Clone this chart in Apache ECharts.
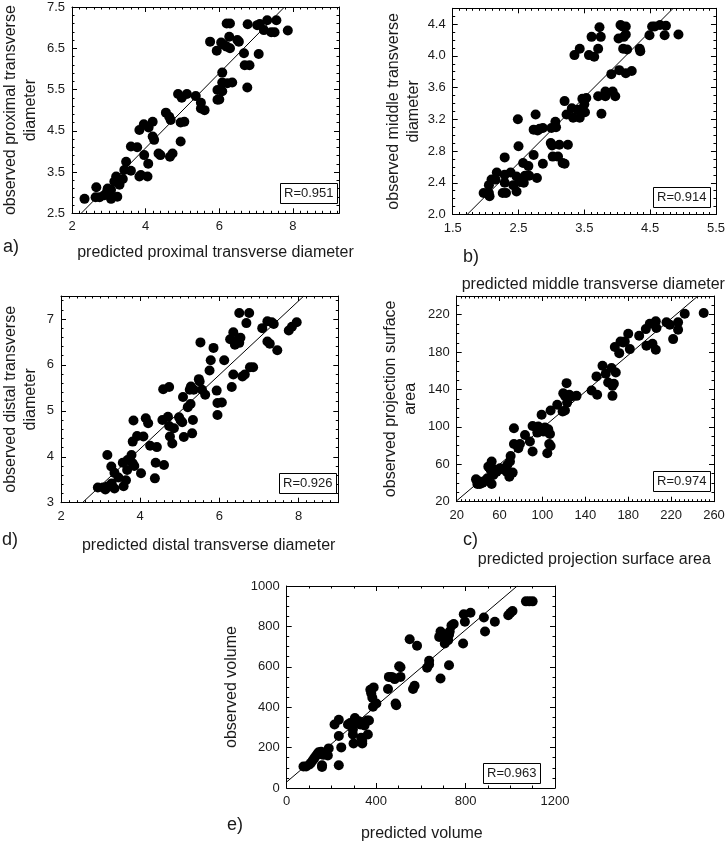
<!DOCTYPE html>
<html>
<head>
<meta charset="utf-8">
<script src="https://cdn.jsdelivr.net/npm/echarts@6/dist/echarts.min.js"></script>
<style>
html,body{margin:0;padding:0;background:#fff;}
#chart{width:728px;height:843px;}
</style>
</head>
<body>
<div id="chart"></div>
<script>
// ---------- DATA ----------
// a) proximal transverse diameter: [predicted, observed]
const proximalPoints = [
 [2.34,2.85],[2.66,3.13],[2.64,2.89],[2.75,2.89],[2.88,2.94],[2.95,3.02],[2.97,3.1],[3.06,2.85],[3.06,3.07],
 [3.15,3.27],[3.2,3.39],[3.24,3.31],[3.29,3.19],[3.23,2.9],[3.38,3.33],[3.42,3.55],[3.47,3.75],[3.6,3.53],
 [3.6,4.12],[3.77,4.1],[3.83,3.39],[3.87,3.43],[3.83,4.52],[3.95,4.66],[3.96,3.91],[4.05,3.39],[4.07,3.7],
 [4.08,4.58],[4.19,4.72],[4.19,4.36],[4.23,4.28],[4.35,3.95],[4.4,3.91],[4.55,4.94],[4.64,4.84],[4.68,4.76],
 [4.66,3.87],[4.73,3.95],[4.88,5.39],[4.98,5.3],[4.95,4.7],[5.05,4.72],[4.95,4.24],[5.12,5.39],[5.36,5.34],
 [5.5,5.18],[5.5,5.04],[5.6,5.0],[5.75,6.66],[5.93,6.44],[5.95,5.25],[6.0,5.26],[5.95,5.49],[6.08,5.46],
 [6.08,5.91],[6.08,5.67],[6.05,6.64],[6.13,6.58],[6.2,6.54],[6.22,5.65],[6.2,7.1],[6.29,7.1],[6.27,6.78],
 [6.29,6.5],[6.35,5.67],[6.49,6.7],[6.53,6.66],[6.67,6.38],[6.69,6.09],[6.76,5.55],[6.77,7.08],[6.82,6.09],
 [7.07,6.36],[7.03,7.06],[7.1,7.09],[7.21,6.94],[7.3,7.18],[7.41,6.89],[7.5,6.89],[7.55,7.18],[7.86,6.93]
];
const proximalFit = [[2.25,2.5],[7.77,7.5]];
const proximalR = 'R=0.951';

// b) middle transverse diameter
const middlePoints = [
 [1.97,2.27],[2.05,2.27],[2.06,2.23],[2.05,2.37],[2.09,2.44],[2.15,2.44],[2.17,2.53],[2.26,2.27],[2.31,2.27],
 [2.29,2.4],[2.29,2.5],[2.29,2.72],[2.38,2.53],[2.42,2.37],[2.47,2.29],[2.47,2.48],[2.49,3.2],[2.5,2.86],
 [2.52,2.41],[2.55,2.44],[2.57,2.65],[2.58,2.4],[2.6,2.49],[2.65,2.61],[2.66,2.49],[2.73,2.75],[2.73,3.07],
 [2.76,3.26],[2.78,2.46],[2.79,3.06],[2.82,3.08],[2.87,2.64],[2.87,3.09],[3.0,3.09],[2.99,2.9],[3.01,2.87],
 [3.02,2.73],[3.06,3.17],[3.07,3.1],[3.1,2.73],[3.12,2.88],[3.17,2.65],[3.2,2.64],[3.2,3.43],[3.25,2.88],
 [3.23,3.26],[3.31,3.34],[3.33,3.22],[3.35,4.01],[3.4,3.32],[3.43,3.22],[3.43,4.09],[3.47,3.46],[3.5,3.39],
 [3.51,3.29],[3.53,3.47],[3.57,4.01],[3.61,4.24],[3.65,3.99],[3.71,4.09],[3.71,3.49],[3.73,4.36],[3.75,4.24],
 [3.76,3.27],[3.82,3.49],[3.82,3.55],[3.91,3.77],[3.93,3.55],[3.97,3.49],[4.02,4.22],[4.03,3.82],[4.05,4.39],
 [4.08,4.37],[4.09,4.09],[4.1,4.24],[4.13,4.27],[4.13,4.37],[4.13,3.78],[4.15,4.08],[4.22,3.81],[4.34,4.09],
 [4.35,4.06],[4.49,4.26],[4.53,4.37],[4.57,4.37],[4.65,4.39],[4.72,4.26],[4.74,4.38],[4.93,4.27]
];
const middleFit = [[1.72,2.0],[4.85,4.6]];
const middleR = 'R=0.914';

// d) distal transverse diameter
const distalPoints = [
 [2.93,3.33],[3.06,3.33],[3.12,3.29],[3.17,3.35],[3.17,4.04],[3.27,3.79],[3.28,3.42],[3.35,3.31],[3.35,3.65],
 [3.45,3.55],[3.56,3.87],[3.58,3.36],[3.64,3.49],[3.67,3.71],[3.68,3.93],[3.78,4.04],[3.81,4.33],[3.81,3.86],
 [3.83,4.79],[3.85,3.8],[3.92,4.45],[4.02,3.64],[4.08,4.44],[4.14,4.84],[4.2,4.73],[4.25,4.24],[4.37,3.53],
 [4.39,3.87],[4.42,4.21],[4.56,4.8],[4.58,5.47],[4.6,3.82],[4.73,5.52],[4.7,4.87],[4.73,4.67],[4.75,4.44],
 [4.81,4.29],[4.85,4.62],[4.98,4.86],[5.02,4.79],[5.06,4.75],[5.08,5.3],[5.1,4.43],[5.2,5.08],[5.25,5.46],
 [5.27,5.15],[5.28,5.53],[5.31,4.51],[5.33,4.8],[5.35,5.46],[5.48,5.69],[5.5,5.64],[5.52,6.49],[5.56,5.46],
 [5.64,5.35],[5.75,5.88],[5.78,6.1],[5.85,6.37],[5.93,5.44],[5.95,5.17],[5.95,4.91],[6.06,5.18],[6.12,6.1],
 [6.27,6.56],[6.31,5.52],[6.35,5.79],[6.35,6.71],[6.39,6.44],[6.45,6.53],[6.5,7.13],[6.5,6.48],[6.53,6.59],
 [6.58,5.75],[6.64,5.79],[6.68,6.91],[6.75,7.13],[6.77,5.95],[6.85,5.95],[7.08,6.8],[7.21,6.95],[7.21,6.51],
 [7.27,6.46],[7.32,6.93],[7.37,6.89],[7.46,6.32],[7.75,6.75],[7.83,6.83],[7.95,6.93]
];
const distalFit = [[2.54,3.0],[8.13,7.5]];
const distalR = 'R=0.926';

// c) projection surface area
const areaPoints = [
 [38,43.9],[39.3,38.9],[41.7,38.9],[40.2,42],[44.2,40.4],[45.5,42],[48.6,45],[49.5,57.5],[52.6,62.9],
 [51.7,53.9],[52.6,38.9],[54.2,48.6],[54.8,54.6],[57.3,52.1],[60.4,55.7],[63.5,54.6],[66.6,52.1],[67.2,59.3],
 [69.1,46.8],[69.7,62.9],[70.3,68.9],[72.2,51.1],[73.4,98.6],[73.4,81.8],[77.5,77.1],[79,81.8],[83.7,91.4],
 [88.3,84.3],[90.8,101],[90.8,73.6],[95.2,93.9],[96.1,100.4],[97,96.8],[99.2,112.9],[100.7,95],[102.3,99.3],
 [103.2,95],[104.5,71.8],[105.4,97.5],[107,92.5],[106.3,81.8],[107.6,117.5],[107.6,79.6],[113.8,123.6],
 [118.8,116.4],[119.4,136],[121,117.5],[121,133.2],[122.5,146.8],[123,126],[125,134.3],[127,132.5],
 [131.8,133.2],[145.8,139],[150.4,154],[151,134.3],[156,165.4],[159,156.8],[161.3,147.5],[164.4,162.9],
 [165.3,143.9],[165.3,133.2],[166.6,146.1],[168.4,158.2],[167.5,185.4],[171.6,178.9],[172.8,191.4],
 [175.3,190.4],[176.8,191.4],[180,199.6],[181.5,183.2],[190.2,197.5],[196.4,204.6],[197,186.8],[200.1,210.4],
 [203.2,210.4],[202.6,188.9],[205.7,212.9],[206.3,205.7],[205.7,182.5],[215.7,211.8],[218.8,209.3],
 [221.9,193.9],[226.5,211.8],[226.5,203.9],[232.7,221.1],[250.4,221.8]
];
const areaFit = [[20,21],[245,240]];
const areaR = 'R=0.974';

// e) volume
const volumePoints = [
 [75,106],[87,106],[102,116],[109,125],[117,137],[124,148],[132,161],[139,169],[143,177],[154,180],
 [158,113],[158,104],[164,164],[176,174],[184,161],[188,196],[214,314],[233,338],[233,257],[233,113],
 [244,201],[274,314],[284,322],[296,289],[296,265],[299,220],[305,346],[311,322],[323,330],[329,314],
 [333,249],[338,233],[338,220],[341,314],[348,309],[359,334],[363,265],[368,334],[374,486],[378,469],
 [383,447],[386,402],[389,498],[401,418],[453,490],[457,550],[467,550],[475,547],[483,539],[487,418],
 [490,410],[503,603],[509,598],[509,550],[550,736],[565,490],[572,506],[583,704],[628,595],[637,630],
 [637,611],[682,748],[688,542],[688,775],[692,759],[726,608],[707,715],[722,732],[726,759],[729,775],
 [737,804],[747,812],[789,715],[792,860],[797,823],[822,868],[882,844],[887,775],[931,823],[991,855],
 [1001,868],[1010,876],[1070,924],[1085,924],[1100,924]
];
const volumeFit = [[0,30],[1031,1000]];
const volumeR = 'R=0.963';

// axis titles and panel letters
const xTitles = ['predicted proximal transverse diameter','predicted middle transverse diameter',
  'predicted distal transverse diameter','predicted projection surface area','predicted volume'];
const yTitles = ['observed proximal transverse\ndiameter','observed middle transverse\ndiameter',
  'observed distal transverse\ndiameter','observed projection surface\narea','observed volume'];
const letters = ['a)','b)','d)','c)','e)'];

// ---------- LAYOUT ----------
const FONT = 'Liberation Sans, Arial, sans-serif';
const TXT = '#1a1a1a';
const panels = [
 {pts:proximalPoints, fit:proximalFit, r:proximalR,
  grid:{left:70.7, top:7, width:268.3, height:206.3},
  x:{min:2, max:9.25, interval:2, minor:10, showMax:false},
  y:{min:2.5, max:7.5, interval:1, minor:5, showMax:true, dec:1},
  xGap:31, xShift:10, yGap:31, rPos:[280,183], letter:[3,238]},
 {pts:middlePoints, fit:middleFit, r:middleR,
  grid:{left:452.7, top:8.3, width:264.6, height:206.2},
  x:{min:1.5, max:5.5, interval:1, minor:10, showMax:true, dec:1},
  y:{min:2.0, max:4.6, interval:0.4, minor:4, showMax:false, dec:1},
  xGap:62, xShift:9, yGap:28, rPos:[653,187], letter:[463,248]},
 {pts:distalPoints, fit:distalFit, r:distalR,
  grid:{left:58.3, top:296, width:280, height:206.7},
  x:{min:2, max:9, interval:2, minor:10, showMax:false},
  y:{min:3, max:7.5, interval:1, minor:5, showMax:false},
  xGap:35, xShift:9, yGap:20, rPos:[279,473], letter:[2,531]},
 {pts:areaPoints, fit:areaFit, r:areaR,
  grid:{left:456.7, top:296, width:257.3, height:205.7},
  x:{min:20, max:260, interval:40, minor:10, showMax:true},
  y:{min:20, max:240, interval:40, minor:4, showMax:false},
  xGap:50, xShift:9, yGap:36, rPos:[653,471], letter:[463,531]},
 {pts:volumePoints, fit:volumeFit, r:volumeR,
  grid:{left:286.7, top:586, width:268.3, height:207},
  x:{min:0, max:1200, interval:400, minor:4, showMax:true},
  y:{min:0, max:1000, interval:200, minor:4, showMax:true},
  xGap:38, xShift:1, yGap:45, rPos:[483,763], letter:[227,816]}
];

const grids=[], xAxes=[], yAxes=[], series=[], titles=[];
panels.forEach((p,i)=>{
  grids.push(Object.assign({containLabel:false}, p.grid));
  const fmt = d => (v => d ? v.toFixed(d) : String(+v.toFixed(6)));
  const common = (a, labels) => ({
    gridIndex:i, type:'value', min:a.min, max:a.max, interval:a.interval,
    axisLine:{show:true, onZero:false, lineStyle:{color:'#000', width:1}},
    axisTick:{show:true, inside:true, length:5, lineStyle:{color:'#000'}},
    minorTick:{show:true, splitNumber:a.minor, length:2.5, lineStyle:{color:'#000'}},
    splitLine:{show:false}, minorSplitLine:{show:false},
    axisLabel:{show:labels, showMaxLabel:a.showMax, showMinLabel:true, margin:7,
      fontSize:13, color:TXT, fontFamily:FONT, formatter:fmt(a.dec)}
  });
  const xb = common(p.x, true);
  xb.position='bottom';
  xb.name = xTitles[i]; xb.nameLocation='middle'; xb.nameGap=p.xGap;
  xb.nameTextStyle={fontSize:16, color:TXT, fontFamily:FONT, padding:[0,0,0,2*p.xShift]};
  const xt = common(p.x, false); xt.position='top';
  const yl = common(p.y, true);
  yl.position='left';
  yl.name = yTitles[i]; yl.nameLocation='middle'; yl.nameGap=p.yGap; yl.nameRotate=90;
  yl.nameTextStyle={fontSize:16, color:TXT, fontFamily:FONT, lineHeight:20};
  const yr = common(p.y, false); yr.position='right';
  const xi = xAxes.length, yi = yAxes.length;
  xAxes.push(xb, xt); yAxes.push(yl, yr);
  series.push({type:'scatter', xAxisIndex:xi, yAxisIndex:yi, data:p.pts,
    symbol:'circle', symbolSize:10, itemStyle:{color:'#000', opacity:1}, silent:true, z:3});
  series.push({type:'line', xAxisIndex:xi, yAxisIndex:yi, data:p.fit, showSymbol:false,
    lineStyle:{color:'#000', width:1}, silent:true, z:2, clip:true});
  titles.push({text:p.r, left:p.rPos[0], top:p.rPos[1], padding:[4,4,4,4], borderWidth:1,
    borderColor:'#000', backgroundColor:'#fff',
    textStyle:{fontSize:13, fontWeight:'normal', color:TXT, fontFamily:FONT}});
  titles.push({text:letters[i], left:p.letter[0], top:p.letter[1], padding:0,
    textStyle:{fontSize:18, fontWeight:'normal', color:TXT, fontFamily:FONT}});
});

const chart = echarts.init(document.getElementById('chart'), null, {renderer:'canvas'});
chart.setOption({
  backgroundColor:'#fff',
  animation:false,
  title:titles,
  grid:grids,
  xAxis:xAxes,
  yAxis:yAxes,
  series:series
});
</script>
</body>
</html>
